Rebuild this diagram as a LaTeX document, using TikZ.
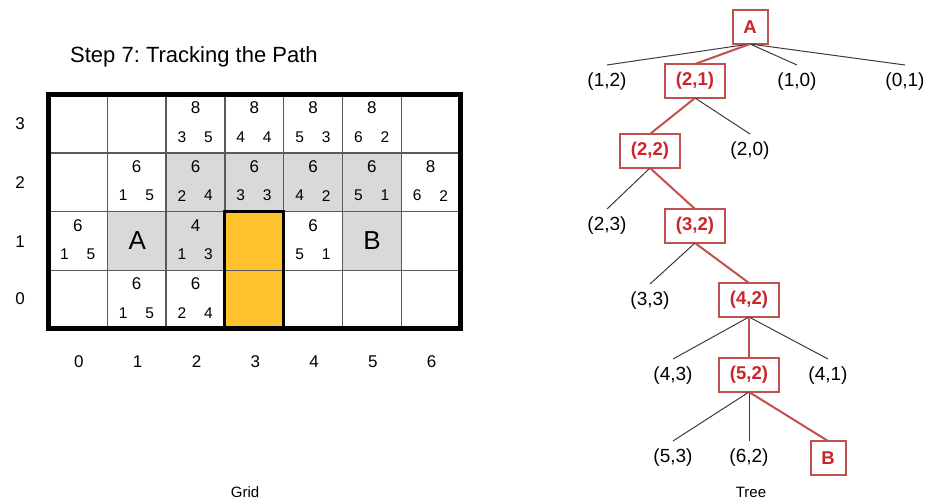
\documentclass[tikz,border=0pt]{standalone}
\usepackage{fontspec}
\setmainfont{Liberation Sans}
\frenchspacing
\definecolor{cellgray}{RGB}{217,217,219}
\definecolor{yellowc}{RGB}{255,195,46}
\definecolor{boxred}{RGB}{192,80,77}
\definecolor{txtred}{RGB}{200,38,44}
\definecolor{edgegray}{RGB}{60,60,60}
\definecolor{gridc}{RGB}{90,90,90}
\newcommand\cellnums[6]{%
  \node[fnum] (#6f) at ({48.5+58.8*(#1+0.5)}, {94.5+58.6*(3-#2)+13.5}) {#3};
  \node[snum] (#6g) at ({48.5+58.8*(#1+0.5)-13.5}, {94.5+58.6*(3-#2)+42.5}) {#4};
  \node[snum] (#6h) at ({48.5+58.8*(#1+0.5)+13}, {94.5+58.6*(3-#2)+42.5}) {#5};}
\begin{document}
\begin{tikzpicture}[x=1pt,y=-1pt,
  fnum/.style={font=\fontsize{17}{20}\selectfont, inner sep=0},
  snum/.style={font=\fontsize{15.5}{18}\selectfont, inner sep=0},
  big/.style={font=\fontsize{26}{30}\selectfont, inner sep=0},
  axislab/.style={font=\fontsize{17}{20}\selectfont, inner sep=0},
  caption/.style={font=\fontsize{15}{18}\selectfont, inner sep=0},
  tn/.style={minimum width=60pt, minimum height=34pt, inner sep=0, outer sep=0, font=\fontsize{19}{22}\selectfont},
  pn/.style={tn, draw=boxred, line width=2pt, text=txtred, font=\fontsize{18.5}{22}\selectfont\bfseries},
  pnsmall/.style={pn, minimum width=35pt},
  te/.style={draw=edgegray, line width=1pt},
  pe/.style={draw=boxred, line width=2pt},
  gridline/.style={draw=gridc, line width=1.3pt},
]
\useasboundingbox (0,0) rectangle (928,502);
% title
\node[font=\fontsize{22}{26}\selectfont, inner sep=0, anchor=west] (title) at (70,57) {Step 7: Tracking the Path};
% fills
\foreach \c/\r in {2/2,3/2,4/2,5/2,1/1,2/1,5/1}
  \fill[cellgray] ({48.5+58.8*\c},{94.5+58.6*(3-\r)}) rectangle ++(58.8,58.6);
\fill[yellowc] (224.9,211.7) rectangle (283.7,328.9);
% grid lines
\foreach \i in {1,...,6}
  \draw[gridline] ({48.5+58.8*\i},94.5) -- ++(0,234.4);
\foreach \j in {1,2,3}
  \draw[gridline] (48.5,{94.5+58.6*\j}) -- ++(411.6,0);
\draw[line width=3pt] (224.9,211.7) rectangle (283.7,328.9);
\draw[line width=5pt] (48.5,94.5) rectangle (460.1,328.9);
% cell numbers
\cellnums{2}{3}{8}{3}{5}{a23}
\cellnums{3}{3}{8}{4}{4}{a33}
\cellnums{4}{3}{8}{5}{3}{a43}
\cellnums{5}{3}{8}{6}{2}{a53}
\cellnums{1}{2}{6}{1}{5}{a12}
\cellnums{2}{2}{6}{2}{4}{a22}
\cellnums{3}{2}{6}{3}{3}{a32}
\cellnums{4}{2}{6}{4}{2}{a42}
\cellnums{5}{2}{6}{5}{1}{a52}
\cellnums{6}{2}{8}{6}{2}{a62}
\cellnums{0}{1}{6}{1}{5}{a01}
\cellnums{2}{1}{4}{1}{3}{a21}
\cellnums{4}{1}{6}{5}{1}{a41}
\cellnums{1}{0}{6}{1}{5}{a10}
\cellnums{2}{0}{6}{2}{4}{a20}
\node[big] (gA) at (137.2,241) {A};
\node[big] (gB) at (372,241) {B};
% axis labels
\node[axislab] (r3) at (20,124) {3};
\node[axislab] (r2) at (20,183) {2};
\node[axislab] (r1) at (20,242) {1};
\node[axislab] (r0) at (20,299) {0};
\foreach \i in {0,...,6}
  \node[axislab] (c\i) at ({48.5+58.8*(\i+0.5)+1},362) {\i};
\node[caption] (gridcap) at (245,492) {Grid};
\node[caption] (treecap) at (751,492) {Tree};
% tree
\node[pnsmall] (A) at (750,27) {A};
\node[tn] (n12) at (607,82) {(1,2)};
\node[pn] (n21) at (695,81) {(2,1)};
\node[tn] (n10) at (797,82) {(1,0)};
\node[tn] (n01) at (905,82) {(0,1)};
\node[pn] (n22) at (650,151) {(2,2)};
\node[tn] (n20) at (750,151) {(2,0)};
\node[tn] (n23) at (607,226) {(2,3)};
\node[pn] (n32) at (695,226) {(3,2)};
\node[tn] (n33) at (650,301) {(3,3)};
\node[pn] (n42) at (749,300) {(4,2)};
\node[tn] (n43) at (673,376) {(4,3)};
\node[pn] (n52) at (749,375) {(5,2)};
\node[tn] (n41) at (828,376) {(4,1)};
\node[tn] (n53) at (673,458) {(5,3)};
\node[tn] (n62) at (749,458) {(6,2)};
\node[pnsmall] (B) at (828,458) {B};
% edges
\draw[te] (A.south) -- (n12.north);
\draw[te] (A.south) -- (n10.north);
\draw[te] (A.south) -- (n01.north);
\draw[te] (n21.south) -- (n20.north);
\draw[te] (n22.south) -- (n23.north);
\draw[te] (n32.south) -- (n33.north);
\draw[te] (n42.south) -- (n43.north);
\draw[te] (n42.south) -- (n41.north);
\draw[te] (n52.south) -- (n53.north);
\draw[te] (n52.south) -- (n62.north);
\draw[pe] (A.south) -- (n21.north);
\draw[pe] (n21.south) -- (n22.north);
\draw[pe] (n22.south) -- (n32.north);
\draw[pe] (n32.south) -- (n42.north);
\draw[pe] (n42.south) -- (n52.north);
\draw[pe] (n52.south) -- (B.north);
\end{tikzpicture}
\end{document}
